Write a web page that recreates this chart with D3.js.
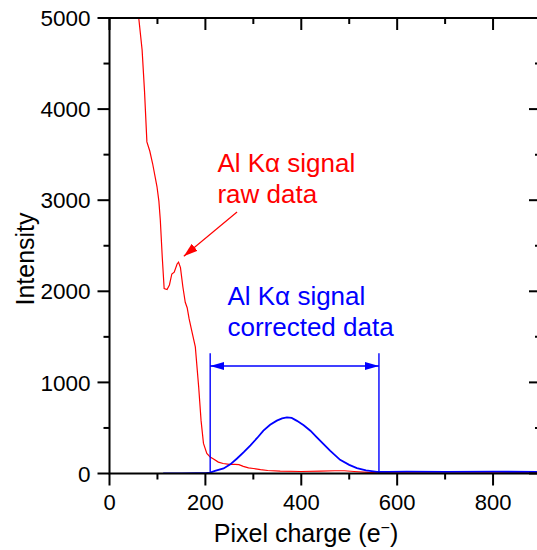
<!DOCTYPE html>
<html>
<head>
<meta charset="utf-8">
<script src="https://cdn.jsdelivr.net/npm/d3@7"></script>
<style>
  html, body { margin: 0; padding: 0; background: #fff; }
  svg { display: block; font-family: "Liberation Sans", Arial, sans-serif; }
</style>
</head>
<body>
<svg id="chart" width="537" height="550"></svg>
<script>
// Raw spectrum (red): pixel charge in e⁻ and counts
const rawCharge = [50, 61, 68, 73, 78, 84, 90, 99, 103, 106, 110, 114, 120, 125, 130, 135, 141, 144,
  148, 153, 158, 162, 166, 171, 179, 186, 191, 196, 203, 210, 217, 227, 237, 250, 262, 270, 279,
  290, 300, 315, 330, 356, 400, 440, 470, 490, 510, 540, 560, 600, 700, 800, 860, 900];
const rawCounts = [6200, 5000, 4650, 4200, 3640, 3540, 3400, 3150, 2990, 2780, 2380, 2030, 2020,
  2070, 2190, 2210, 2300, 2320, 2260, 2050, 1880, 1820, 1700, 1580, 1390, 950, 580, 330, 220, 180,
  160, 125, 110, 100, 100, 97, 78, 62, 55, 42, 33, 25, 22, 25, 30, 30, 22, 12, 8, 6, 5, 6, 10, 8];

// Corrected spectrum (blue)
const corrCharge = [112, 150, 180, 200, 210, 220, 238, 252, 266, 280, 294, 308, 321, 335, 349, 360,
  370, 380, 391, 405, 419, 432, 446, 460, 481, 500, 516, 535, 558, 580, 620, 700, 800, 900];
const corrCounts = [2, 2, 3, 5, 10, 28, 55, 100, 165, 235, 310, 390, 470, 535, 580, 605, 615, 610,
  578, 530, 470, 400, 325, 250, 150, 95, 60, 35, 18, 18, 20, 18, 20, 18];

// Axis ticks
const xMajor = [0, 200, 400, 600, 800];
const xMinor = [100, 300, 500, 700, 900];
const yMajor = [0, 1000, 2000, 3000, 4000, 5000];
const yMinor = [500, 1500, 2500, 3500, 4500];

// Integration window of the corrected peak
const windowLo = 210, windowHi = 562, windowTop = 1320, windowArrow = 1180;

// Annotation anchors (data units)
const rawLabel = { x: 225, y: 3308, lines: ["Al Kα signal", "raw data"] };
const rawArrow = { from: [266, 2871], to: [155, 2385] };
const corrLabel = { x: 246, y: 1846, lines: ["Al Kα signal", "corrected data"] };

const svg = d3.select("#chart");
const pL = 109.5, pR = 541, pT = 18, pB = 473.5;

const x = d3.scaleLinear().domain([0, 900]).range([pL, pR]);
const y = d3.scaleLinear().domain([0, 5000]).range([pB, pT]);

const RED = "#ff0000", BLUE = "#0000ff";

const defs = svg.append("defs");
defs.append("clipPath").attr("id", "plot")
  .append("rect").attr("x", pL).attr("y", pT)
  .attr("width", pR - pL).attr("height", pB - pT);

function arrowMarker(id, color, w, h) {
  defs.append("marker").attr("id", id)
    .attr("viewBox", `0 0 ${w} ${h}`).attr("refX", w).attr("refY", h / 2)
    .attr("markerWidth", w).attr("markerHeight", h)
    .attr("markerUnits", "userSpaceOnUse").attr("orient", "auto-start-reverse")
    .append("path").attr("d", `M0,0L${w},${h / 2}L0,${h}Z`).attr("fill", color);
}
arrowMarker("arrRed", RED, 14, 9);
arrowMarker("arrBlue", BLUE, 14, 8);

// Curves
const line = d3.line().x(d => x(d[0])).y(d => y(d[1]));
const g = svg.append("g").attr("clip-path", "url(#plot)");
g.append("path").datum(d3.zip(rawCharge, rawCounts))
  .attr("d", line).attr("fill", "none").attr("stroke", RED).attr("stroke-width", 1.2);
g.append("path").datum(d3.zip(corrCharge, corrCounts))
  .attr("d", line).attr("fill", "none").attr("stroke", BLUE).attr("stroke-width", 1.8);

// Integration window bracket
const br = svg.append("g").attr("stroke", BLUE).attr("stroke-width", 1.4);
[windowLo, windowHi].forEach(v => {
  br.append("line").attr("x1", x(v)).attr("x2", x(v)).attr("y1", y(windowTop)).attr("y2", y(0));
});
br.append("line").attr("x1", x(windowLo)).attr("x2", x(windowHi))
  .attr("y1", y(windowArrow)).attr("y2", y(windowArrow))
  .attr("marker-start", "url(#arrBlue)").attr("marker-end", "url(#arrBlue)");

// Frame and ticks
const ax = svg.append("g").attr("stroke", "#000").attr("stroke-width", 2);
ax.append("rect").attr("x", pL).attr("y", pT).attr("width", pR - pL)
  .attr("height", pB - pT).attr("fill", "none");
const MAJ = 12, MIN = 6;
xMajor.concat(xMinor).forEach(v => {
  const len = xMajor.includes(v) ? MAJ : MIN;
  ax.append("line").attr("x1", x(v)).attr("x2", x(v)).attr("y1", pB).attr("y2", pB + len);
  ax.append("line").attr("x1", x(v)).attr("x2", x(v)).attr("y1", pT).attr("y2", pT + len);
});
yMajor.concat(yMinor).forEach(v => {
  const len = yMajor.includes(v) ? MAJ : MIN;
  ax.append("line").attr("x1", pL - len).attr("x2", pL).attr("y1", y(v)).attr("y2", y(v));
  ax.append("line").attr("x1", pR - len).attr("x2", pR).attr("y1", y(v)).attr("y2", y(v));
});

// Tick labels
svg.append("g").selectAll("text").data(xMajor).join("text")
  .attr("x", d => x(d)).attr("y", 510).attr("text-anchor", "middle")
  .attr("font-size", 22).text(d => d);
svg.append("g").selectAll("text").data(yMajor).join("text")
  .attr("x", 90.5).attr("y", d => y(d)).attr("dy", "0.36em").attr("text-anchor", "end")
  .attr("font-size", 22.5).text(d => d);

// Axis titles
const xt = svg.append("text").attr("x", 306).attr("y", 542).attr("text-anchor", "middle")
  .attr("font-size", 25).text("Pixel charge (e");
xt.append("tspan").attr("dy", -9).attr("font-size", 16).text("−");
xt.append("tspan").attr("dy", 9).text(")");
svg.append("text").attr("transform", "translate(34,259) rotate(-90)")
  .attr("text-anchor", "middle").attr("font-size", 25).text("Intensity");

// Annotations
function label(spec, color) {
  const t = svg.append("text").attr("fill", color).attr("font-size", 26);
  spec.lines.forEach((s, i) => {
    t.append("tspan").attr("x", x(spec.x)).attr("y", y(spec.y) + i * 31).text(s);
  });
}
label(rawLabel, RED);
label(corrLabel, BLUE);
svg.append("line")
  .attr("x1", x(rawArrow.from[0])).attr("y1", y(rawArrow.from[1]))
  .attr("x2", x(rawArrow.to[0])).attr("y2", y(rawArrow.to[1]))
  .attr("stroke", RED).attr("stroke-width", 1.2).attr("marker-end", "url(#arrRed)");
</script>
</body>
</html>
